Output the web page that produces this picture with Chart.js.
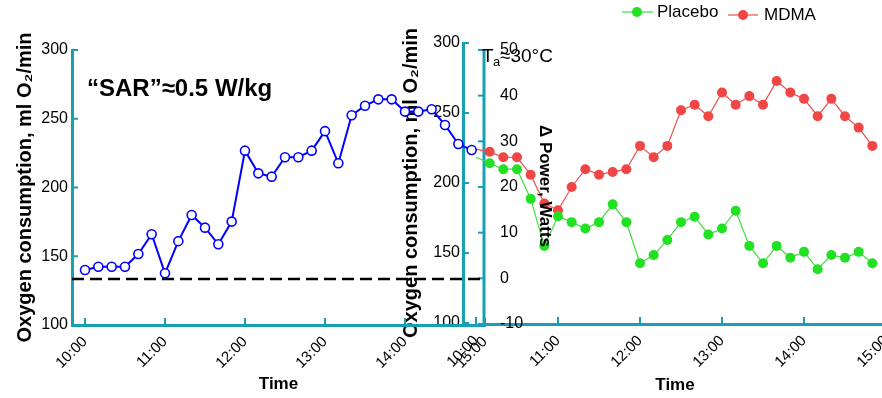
<!DOCTYPE html>
<html lang="en">
<head>
<meta charset="UTF-8">
<title>Oxygen consumption</title>
<script src="https://cdn.jsdelivr.net/npm/chart.js@4.4.0/dist/chart.umd.min.js"></script>
<style>
  html, body { margin: 0; padding: 0; background: #fff; overflow: hidden; }
  #wrap { position: relative; width: 882px; height: 398px; overflow: hidden; }
  #wrap canvas { position: absolute; left: 0; top: 0; }
</style>
</head>
<body>
<div id="wrap">
  <canvas id="rightChart" width="910" height="398"></canvas>
  <canvas id="leftChart" width="882" height="398"></canvas>
</div>

<script>
// sample times, every 10 minutes
var times = ['10:00','10:10','10:20','10:30','10:40','10:50',
             '11:00','11:10','11:20','11:30','11:40','11:50',
             '12:00','12:10','12:20','12:30','12:40','12:50',
             '13:00','13:10','13:20','13:30','13:40','13:50',
             '14:00','14:10','14:20','14:30','14:40','14:50'];

// left panel: oxygen consumption, ml O2/min
var sarO2 = [140, 142.4, 142.4, 142.4, 151.6, 166, 137.6, 161, 180, 170.8, 158.7, 175.2,
             226.8, 210.3, 207.9, 222, 222, 226.8, 241, 217.6, 252.5, 259.5, 264.1, 264.1,
             255.2, 255.2, 256.9, 245.5, 231.6, 227.3];
var baselineO2 = 133.5;

// right panel: delta power, watts
var placeboPower = [26.5, 25.2, 23.9, 23.9, 17.4, 7.1, 13.6, 12.3, 10.9, 12.3, 16.2, 12.3,
                    3.3, 5.1, 8.4, 12.3, 13.5, 9.6, 10.9, 14.8, 7.1, 3.3, 7.1, 4.5,
                    5.8, 2.0, 5.1, 4.5, 5.8, 3.3];
var mdmaPower = [28.3, 27.7, 26.5, 26.5, 22.7, 16.4, 14.9, 20.0, 23.9, 22.7, 23.3, 23.9,
                 29.0, 26.5, 29.0, 36.8, 38.0, 35.5, 40.7, 38.0, 39.9, 38.0, 43.2, 40.7,
                 39.3, 35.5, 39.3, 35.5, 33.0, 29.0];

var hourTicks = ['10:00', '11:00', '12:00', '13:00', '14:00', '15:00'];
var o2Ticks = [100, 150, 200, 250, 300];
var powerTicks = [-10, 0, 10, 20, 30, 40, 50];

var teal = '#189fb4';
var fontFamily = "'Liberation Sans', Arial, sans-serif";
Chart.defaults.font.family = fontFamily;
Chart.defaults.color = '#000';

function toMin(s) {
    var p = s.split(':');
    return Number(p[0]) * 60 + Number(p[1]);
}
function toClock(v) {
    var h = Math.floor(v / 60), m = Math.round(v % 60);
    return h + ':' + (m < 10 ? '0' : '') + m;
}
function points(values) {
    return values.map(function (v, i) { return {x: toMin(times[i]), y: v}; });
}
function setTicks(values) {
    return function (scale) { scale.ticks = values.map(function (v) { return {value: v}; }); };
}
function fixWidth(w) { return function (scale) { scale.width = w; }; }
function fixHeight(h) { return function (scale) { scale.height = h; }; }

// small tick marks drawn on the inner side of the axes
var tickMarks = {
    id: 'tickMarks',
    beforeDatasetsDraw: function (chart, args, opts) {
        var ctx = chart.ctx;
        ctx.save();
        ctx.strokeStyle = teal;
        opts.marks.forEach(function (m) {
            var s = chart.scales[m.id];
            ctx.lineWidth = 2;
            s.ticks.forEach(function (t) {
                var p = s.getPixelForValue(t.value);
                ctx.beginPath();
                if (s.isHorizontal()) {
                    ctx.moveTo(p, s.top); ctx.lineTo(p, s.top - m.len);
                } else {
                    ctx.moveTo(s.right, p); ctx.lineTo(s.right + m.len, p);
                }
                ctx.stroke();
            });
            if (m.line) {
                ctx.lineWidth = 3;
                ctx.beginPath();
                ctx.moveTo(s.right, s.getPixelForValue(powerTicks[powerTicks.length - 1]) - 1);
                ctx.lineTo(s.right, s.bottom + 1);
                ctx.stroke();
            }
        });
        ctx.restore();
    }
};

var x0 = toMin('10:00'), x1 = toMin('15:00');

// ---------- left panel ----------
var leftNotes = {
    id: 'leftNotes',
    afterDraw: function (chart) {
        var ctx = chart.ctx;
        ctx.save();
        ctx.fillStyle = '#000';
        ctx.font = 'bold 24px ' + fontFamily;
        ctx.textBaseline = 'alphabetic';
        ctx.fillText('\u201CSAR\u201D\u22480.5 W/kg', 87, 96);
        ctx.restore();
    }
};

new Chart(document.getElementById('leftChart'), {
    type: 'line',
    data: {
        datasets: [{
            data: points(sarO2),
            borderColor: '#0000ff',
            borderWidth: 2,
            pointRadius: 4.5,
            pointBorderWidth: 1.6,
            pointBorderColor: '#0000ff',
            pointBackgroundColor: '#ffffff',
            tension: 0
        }, {
            data: [{x: x0 - 9.75, y: baselineO2}, {x: x1 - 2.2, y: baselineO2}],
            borderColor: '#000',
            borderWidth: 2.5,
            borderDash: [12, 6],
            pointRadius: 0,
            tension: 0
        }]
    },
    options: {
        responsive: false,
        animation: false,
        layout: { padding: {left: 0, top: 50, right: 397, bottom: 0} },
        plugins: {
            legend: { display: false },
            tooltip: { enabled: false },
            tickMarks: { marks: [{id: 'x', len: 7}, {id: 'y', len: 6}] }
        },
        scales: {
            x: {
                type: 'linear',
                min: x0 - 9.75,
                max: x1,
                afterBuildTicks: setTicks(hourTicks.map(toMin)),
                afterFit: fixHeight(73),
                grid: { display: false, drawTicks: false },
                border: { color: teal, width: 3 },
                ticks: {
                    autoSkip: false, minRotation: 45, maxRotation: 45, padding: 8,
                    font: { size: 15 }, callback: toClock
                },
                title: { display: true, text: 'Time', font: { size: 17, weight: 'bold' }, padding: {bottom: 3} }
            },
            y: {
                min: 100,
                max: 300,
                afterBuildTicks: setTicks(o2Ticks),
                afterFit: fixWidth(72),
                grid: { display: false, drawTicks: false },
                border: { color: teal, width: 3 },
                ticks: { padding: 4, font: { size: 16 } },
                title: {
                    display: true, text: 'Oxygen consumption, ml O\u2082/min',
                    font: { size: 20, weight: 'bold' }, padding: {top: 13}
                }
            }
        }
    },
    plugins: [tickMarks, leftNotes]
});

// ---------- right panel ----------
var rightNotes = {
    id: 'rightNotes',
    afterDraw: function (chart) {
        var ctx = chart.ctx;
        ctx.save();
        ctx.fillStyle = '#000';

        // axis titles
        ctx.font = 'bold 20px ' + fontFamily;
        ctx.textAlign = 'center';
        ctx.textBaseline = 'middle';
        ctx.save();
        ctx.translate(411, 183);
        ctx.rotate(-Math.PI / 2);
        ctx.fillText('Oxygen consumption, ml O\u2082/min', 0, 0);
        ctx.restore();

        ctx.font = 'bold 17px ' + fontFamily;
        ctx.save();
        ctx.translate(545, 186);
        ctx.rotate(Math.PI / 2);
        ctx.fillText('\u0394 Power, Watts', 0, 0);
        ctx.restore();

        ctx.fillText('Time', 675, 385);

        // ambient temperature
        ctx.textAlign = 'left';
        ctx.textBaseline = 'alphabetic';
        ctx.font = '19px ' + fontFamily;
        ctx.fillText('T', 482, 62);
        ctx.font = '13px ' + fontFamily;
        ctx.fillText('a', 493, 66);
        ctx.font = '19px ' + fontFamily;
        ctx.fillText('\u224830\u00B0C', 500, 62);

        // legend
        var items = [
            {label: 'Placebo', color: '#22e022', line: '#3fdc3f', x1: 622, x2: 653, dot: 637, tx: 657, y: 12},
            {label: 'MDMA', color: '#f04646', line: '#ef5050', x1: 728, x2: 758, dot: 743, tx: 764, y: 15}
        ];
        ctx.font = '17px ' + fontFamily;
        ctx.textBaseline = 'middle';
        items.forEach(function (it) {
            ctx.strokeStyle = it.line;
            ctx.lineWidth = 1.2;
            ctx.beginPath();
            ctx.moveTo(it.x1, it.y); ctx.lineTo(it.x2, it.y);
            ctx.stroke();
            ctx.fillStyle = it.color;
            ctx.beginPath();
            ctx.arc(it.dot, it.y, 5, 0, Math.PI * 2);
            ctx.fill();
            ctx.fillStyle = '#000';
            ctx.fillText(it.label, it.tx, it.y);
        });
        ctx.restore();
    }
};

// right chart area runs from 484 to 886 px, 10:00 sits at 476 px
var pxPerMin = 410 / 300;
var rxMin = x0 + 8 / pxPerMin;

new Chart(document.getElementById('rightChart'), {
    type: 'line',
    data: {
        datasets: [{
            label: 'Placebo',
            data: points(placeboPower),
            yAxisID: 'yP',
            borderColor: '#3fdc3f',
            borderWidth: 1.2,
            pointRadius: 5,
            pointBorderWidth: 0,
            pointBackgroundColor: '#22e022',
            tension: 0,
            clip: false
        }, {
            label: 'MDMA',
            data: points(mdmaPower),
            yAxisID: 'yP',
            borderColor: '#ef5050',
            borderWidth: 1.2,
            pointRadius: 5,
            pointBorderWidth: 0,
            pointBackgroundColor: '#f04646',
            tension: 0,
            clip: false
        }]
    },
    options: {
        responsive: false,
        animation: false,
        layout: { padding: {left: 0, top: 43, right: 24, bottom: 0} },
        plugins: {
            legend: { display: false },
            tooltip: { enabled: false },
            tickMarks: { marks: [{id: 'x', len: 7}, {id: 'yO2', len: 6}, {id: 'yP', len: -6, line: true}] }
        },
        scales: {
            x: {
                type: 'linear',
                min: rxMin,
                max: x1,
                afterBuildTicks: setTicks(hourTicks.map(toMin)),
                afterFit: fixHeight(74),
                grid: { display: false, drawTicks: false },
                border: { color: teal, width: 3 },
                ticks: {
                    autoSkip: false, minRotation: 45, maxRotation: 45, padding: 8,
                    font: { size: 15 }, callback: toClock
                }
            },
            yO2: {
                position: 'left',
                weight: 1,
                min: 99.3,
                max: 300,
                afterBuildTicks: setTicks(o2Ticks),
                afterFit: fixWidth(463),
                grid: { display: false, drawTicks: false },
                border: { color: teal, width: 3 },
                ticks: { padding: 3, font: { size: 16 } }
            },
            yP: {
                position: 'left',
                weight: 0,
                min: -10,
                max: 51.53,
                afterBuildTicks: setTicks(powerTicks),
                afterFit: fixWidth(21),
                grid: { display: false, drawTicks: false },
                border: { display: false },
                ticks: { mirror: true, padding: 16, font: { size: 16 } }
            }
        }
    },
    plugins: [tickMarks, rightNotes]
});
</script>
</body>
</html>
